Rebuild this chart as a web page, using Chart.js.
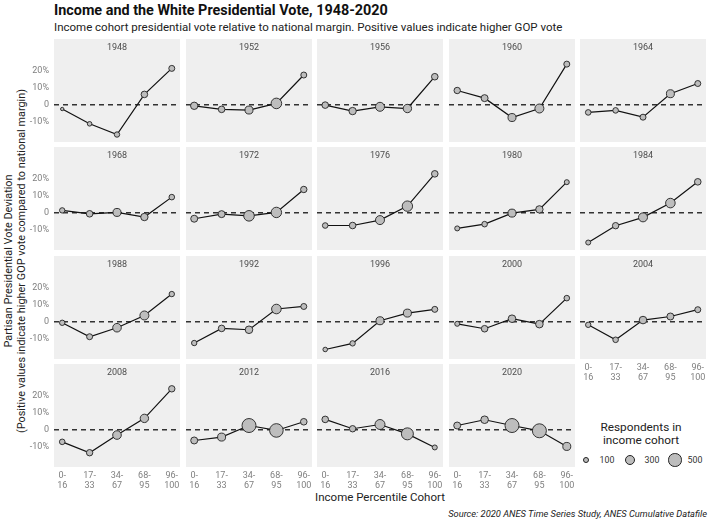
<!DOCTYPE html>
<html>
<head>
<meta charset="utf-8">
<script src="https://cdn.jsdelivr.net/npm/chart.js@4.4.1/dist/chart.umd.min.js"></script>
<style>
  body { margin: 0; width: 710px; height: 523px; position: relative; background: #fff; font-family: Roboto, sans-serif; overflow: hidden; }
  .panel { position: absolute; }
  .txt { position: absolute; white-space: nowrap; }
</style>
</head>
<body>
<div class="txt" style="left:54px;top:1.5px;font-size:14.4px;font-weight:bold;color:#111">Income and the White Presidential Vote, 1948-2020</div>
<div class="txt" style="left:54px;top:19.5px;font-size:11.5px;color:#222">Income cohort presidential vote relative to national margin. Positive values indicate higher GOP vote</div>
<div class="txt" style="left:15px;top:261px;font-size:10.9px;line-height:13px;color:#222;text-align:center;transform:translate(-50%,-50%) rotate(-90deg)">Partisan Presidential Vote Deviation<br>(Positive values indicate higher GOP vote compared to national margin)</div>
<div class="txt" style="left:380px;top:497px;font-size:11.5px;color:#222;transform:translate(-50%,-50%)">Income Percentile Cohort</div>
<div class="txt" style="right:3px;top:508px;font-size:9.3px;font-style:italic;color:#222">Source: 2020 ANES Time Series Study, ANES Cumulative Datafile</div>
<div class="txt" style="left:641px;top:434px;font-size:11.8px;line-height:13px;color:#222;text-align:center;transform:translate(-50%,-50%)">Respondents in<br>income cohort</div>
<div id="charts"></div>

<script>
// facets
const years = [1948, 1952, 1956, 1960, 1964, 1968, 1972, 1976, 1980, 1984,
               1988, 1992, 1996, 2000, 2004, 2008, 2012, 2016, 2020];
const cohortLabels = ["0-16", "17-33", "34-67", "68-95", "96-100"];

// vote deviation from national margin (%), one row per year
const deviation = [
  [-2.5, -11.2, -17.5, 6.1, 21.4],
  [-0.6, -2.7, -3.1, 0.8, 17.5],
  [-0.2, -3.7, -1.2, -2.2, 16.5],
  [8.4, 3.9, -7.5, -2.2, 23.9],
  [-4.5, -3.3, -7.3, 6.5, 12.5],
  [1.4, -0.6, 0.2, -2.5, 9.2],
  [-3.5, -0.8, -1.8, 0.2, 13.7],
  [-7.5, -7.5, -4.3, 3.9, 22.9],
  [-9.2, -6.7, -0.2, 2.0, 18.0],
  [-17.5, -7.6, -2.7, 5.7, 18.2],
  [-0.6, -8.8, -3.5, 3.7, 16.3],
  [-12.5, -3.9, -4.7, 7.5, 9.0],
  [-16.3, -12.7, 0.6, 5.1, 7.3],
  [-1.2, -4.1, 1.8, -1.4, 13.9],
  [-1.8, -10.6, 1.0, 3.1, 7.1],
  [-7.1, -13.5, -3.1, 6.7, 24.1],
  [-6.3, -4.3, 2.5, -0.4, 4.7],
  [6.1, 0.6, 3.1, -2.4, -10.4],
  [2.5, 5.9, 2.5, -0.6, -9.8]
];

// respondents in each income cohort
const respondents = [
  [26, 54, 79, 124, 100],
  [159, 124, 189, 346, 100],
  [124, 159, 244, 210, 124],
  [116, 141, 189, 244, 100],
  [86, 86, 100, 189, 100],
  [79, 124, 189, 159, 86],
  [141, 141, 346, 333, 116],
  [86, 124, 244, 333, 124],
  [66, 86, 189, 159, 66],
  [66, 116, 244, 280, 124],
  [79, 100, 221, 244, 79],
  [79, 124, 169, 280, 100],
  [54, 79, 189, 189, 100],
  [66, 124, 169, 169, 86],
  [79, 86, 169, 141, 100],
  [86, 116, 221, 210, 116],
  [141, 189, 624, 587, 124],
  [124, 116, 306, 451, 66],
  [141, 169, 624, 624, 189]
];

const yTicks = [-10, 0, 10, 20];
const legendSizes = [100, 300, 500];

// layout
const panelLeft = 54, panelW = 126, colStep = 131.5;
const panelTop = 39, panelH = 103, rowStep = 108.3;
const stripH = 18, yAxisW = 54, xAxisH = 28;
const FONT = "Roboto";

function sizeOf(n) {
  return 0.33 + 0.267 * Math.sqrt(n);
}

// grey panel, strip label and dashed zero line
const panelBg = {
  id: "panelBg",
  beforeDraw(chart, args, opts) {
    const ctx = chart.ctx, a = chart.chartArea;
    ctx.save();
    ctx.fillStyle = "#efefef";
    ctx.fillRect(a.left, a.top - stripH, a.right - a.left, a.bottom - a.top + stripH);
    ctx.fillStyle = "#4d4d4d";
    ctx.font = "9px " + FONT;
    ctx.textAlign = "center";
    ctx.textBaseline = "middle";
    ctx.fillText(opts.label, (a.left + a.right) / 2, a.top - stripH / 2);
    ctx.restore();
  },
  beforeDatasetsDraw(chart) {
    const ctx = chart.ctx, a = chart.chartArea;
    const y0 = chart.scales.y.getPixelForValue(0);
    ctx.save();
    ctx.strokeStyle = "#333";
    ctx.lineWidth = 1.3;
    ctx.setLineDash([5, 4]);
    ctx.beginPath();
    ctx.moveTo(a.left, y0);
    ctx.lineTo(a.right, y0);
    ctx.stroke();
    ctx.restore();
  }
};

function noPad(s) {
  s.paddingTop = 0;
  s.paddingBottom = 0;
  s.paddingLeft = 0;
  s.paddingRight = 0;
}

const holder = document.getElementById("charts");

years.forEach((year, i) => {
  const col = i % 5, row = Math.floor(i / 5);
  const isLeft = col === 0;
  const isBottom = row === 3 || (row === 2 && col === 4);

  const left = Math.round(panelLeft + col * colStep) - (isLeft ? yAxisW : 0);
  const top = Math.round(panelTop + row * rowStep);
  const w = panelW + (isLeft ? yAxisW : 0);
  const h = panelH + (isBottom ? xAxisH : 0);

  const div = document.createElement("div");
  div.className = "panel";
  div.style.left = left + "px";
  div.style.top = top + "px";
  const canvas = document.createElement("canvas");
  canvas.width = w;
  canvas.height = h;
  canvas.style.width = w + "px";
  canvas.style.height = h + "px";
  div.appendChild(canvas);
  holder.appendChild(div);

  new Chart(canvas, {
    type: "line",
    data: {
      datasets: [{
        data: deviation[i].map((v, k) => ({ x: k + 1, y: v })),
        borderColor: "#111",
        borderWidth: 1.2,
        pointRadius: respondents[i].map(sizeOf),
        pointBackgroundColor: "#bdbdbd",
        pointBorderColor: "#222",
        pointBorderWidth: 0.9,
        tension: 0,
        clip: false
      }]
    },
    options: {
      responsive: false,
      animation: false,
      devicePixelRatio: 1,
      layout: { padding: { top: stripH, left: 0, right: 0, bottom: 0 }, autoPadding: false },
      plugins: {
        legend: { display: false },
        tooltip: { enabled: false },
        panelBg: { label: String(year) }
      },
      scales: {
        x: {
          type: "linear",
          min: 0.7,
          max: 5.3,
          display: isBottom,
          grid: { display: false, drawTicks: false },
          border: { display: false },
          afterBuildTicks: s => { s.ticks = [1, 2, 3, 4, 5].map(v => ({ value: v })); },
          afterFit: s => { s.height = isBottom ? xAxisH : 0; noPad(s); },
          ticks: {
            padding: 4,
            color: "#7f7f7f",
            maxRotation: 0,
            autoSkip: false,
            font: { family: FONT, size: 9, lineHeight: 1.1 },
            callback: v => {
              const lab = cohortLabels[v - 1];
              const p = lab.indexOf("-");
              return [lab.slice(0, p + 1), lab.slice(p + 1)];
            }
          }
        },
        y: {
          min: -21.9,
          max: 28.1,
          display: isLeft,
          grid: { display: false, drawTicks: false },
          border: { display: false },
          afterBuildTicks: s => { s.ticks = yTicks.map(v => ({ value: v })); },
          afterFit: s => { s.width = isLeft ? yAxisW : 0; noPad(s); },
          ticks: {
            padding: 5,
            color: "#7f7f7f",
            font: { family: FONT, size: 9 },
            callback: v => v === 0 ? "0" : v + "%"
          }
        }
      }
    },
    plugins: [panelBg]
  });
});

// size legend
const legX = [586, 630, 675], labX = [607, 652, 695], legY = 460;
legendSizes.forEach((n, k) => {
  const r = sizeOf(n) + 0.4;
  const c = document.createElement("div");
  c.style.cssText = `position:absolute;left:${legX[k] - r}px;top:${legY - r}px;width:${2 * r}px;height:${2 * r}px;` +
    "box-sizing:border-box;border-radius:50%;background:#bdbdbd;border:0.9px solid #222";
  document.body.appendChild(c);
  const t = document.createElement("div");
  t.className = "txt";
  t.textContent = n;
  t.style.cssText += `left:${labX[k]}px;top:${legY}px;font-size:8.8px;color:#333;transform:translate(-50%,-50%)`;
  document.body.appendChild(t);
});
</script>
</body>
</html>
